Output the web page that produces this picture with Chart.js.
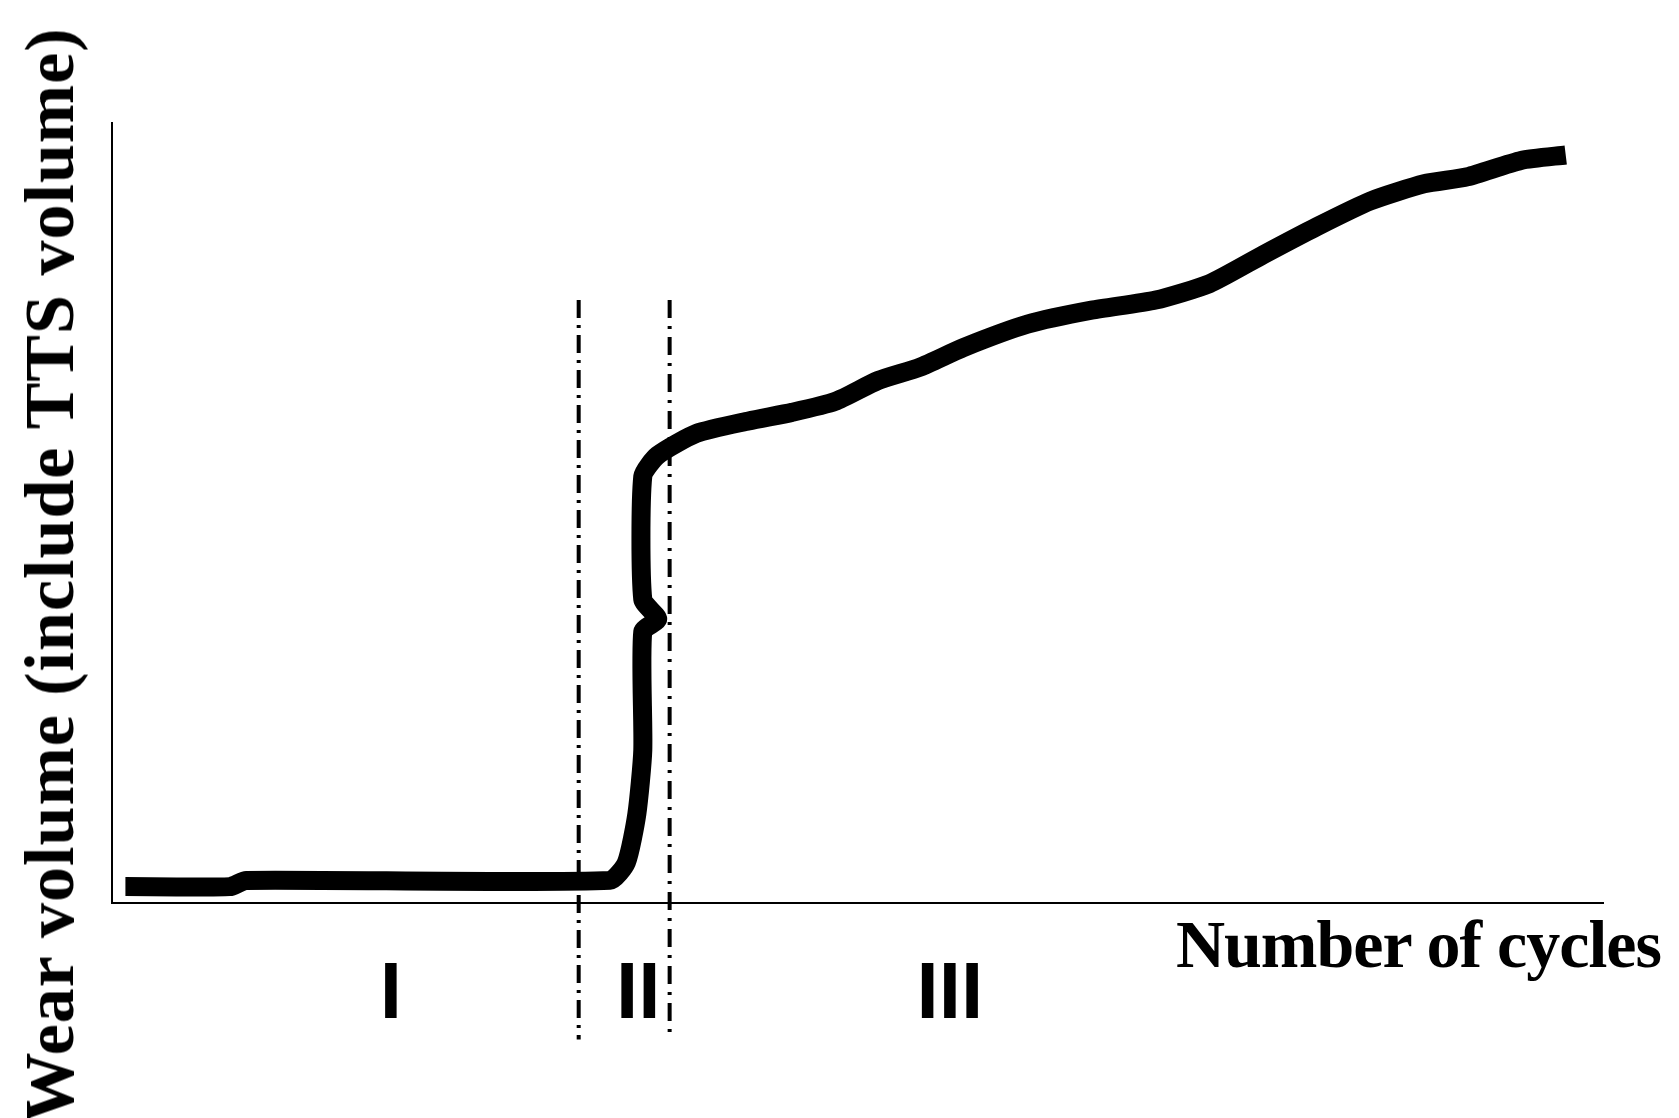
<!DOCTYPE html>
<html>
<head>
<meta charset="utf-8">
<script src="https://cdn.jsdelivr.net/npm/chart.js@4"></script>
<style>
  html, body { margin: 0; padding: 0; background: #fff; }
  #wrap { position: relative; width: 1679px; height: 1118px; }
  #yt { position: absolute; left: 50px; top: 575px; transform: translate(-50%, -50%) rotate(-90deg);
        white-space: nowrap; font: bold 70px "Liberation Serif", serif; color: #000; letter-spacing: 1px; }
  #xt { position: absolute; right: 18px; top: 905px; white-space: nowrap;
        font: bold 68px "Liberation Serif", serif; color: #000; letter-spacing: -1px; }
</style>
</head>
<body>
<div id="wrap">
  <canvas id="c" width="1679" height="1118"></canvas>
  <div id="yt">Wear volume (include TTS volume)</div>
  <div id="xt">Number of cycles</div>
</div>
<script>
// wear curve (x: cycles 0-100, y: volume 0-100)
var curveX = [0.9, 7.9, 9.0, 33.4, 34.5, 35.2, 35.6, 35.6, 36.6, 35.6, 35.6, 36.6, 39.2, 42.7, 45.6, 48.5, 51.4, 54.2, 57.1, 61.4, 65.7, 70.0, 73.6, 77.2, 80.8, 84.4, 88.0, 90.9, 94.5, 97.5];
var curveY = [2.1, 2.1, 2.9, 2.9, 5.2, 11.4, 19.6, 34.8, 36.4, 38.9, 54.7, 57.4, 60.2, 61.8, 62.9, 64.3, 67.0, 68.7, 71.2, 74.2, 76.0, 77.3, 79.4, 83.1, 86.7, 90.0, 92.2, 93.1, 95.2, 95.9];
// stage boundaries
var stageEdges = [31.3, 37.4];
var edgeTop = 77.3, edgeBottom = -17.5;
// stage labels
var stageX = [18.7, 35.3, 56.2];
var stageLabels = ['I', 'II', 'III'];

function pts(xs, ys) { return xs.map(function (x, i) { return { x: x, y: ys[i] }; }); }

new Chart(document.getElementById('c'), {
  type: 'line',
  data: {
    datasets: [
      { data: pts(curveX, curveY), borderColor: '#000', borderWidth: 19, pointRadius: 0,
        tension: 0.2, borderCapStyle: 'butt', borderJoinStyle: 'round' },
      { data: [{ x: stageEdges[0], y: edgeTop }, { x: stageEdges[0], y: edgeBottom }],
        borderColor: '#000', borderWidth: 4, borderDash: [18, 7, 3, 7], pointRadius: 0, clip: false },
      { data: [{ x: stageEdges[1], y: edgeTop }, { x: stageEdges[1], y: edgeBottom }],
        borderColor: '#000', borderWidth: 4, borderDash: [18, 8, 3, 8], pointRadius: 0, clip: false }
    ]
  },
  options: {
    responsive: false, animation: false,
    layout: { padding: { top: 123, right: 76, left: 0, bottom: 0 } },
    plugins: { legend: { display: false }, tooltip: { enabled: false } },
    scales: {
      x: {
        type: 'linear', min: 0, max: 100,
        grid: { display: false, drawTicks: false },
        border: { color: '#000', width: 2 },
        afterBuildTicks: function (s) { s.ticks = stageX.map(function (v) { return { value: v }; }); },
        afterFit: function (s) { s.height = 215; },
        ticks: { padding: 45, maxRotation: 0, autoSkip: false, color: '#000',
          font: { family: 'Liberation Sans', weight: 'bold', size: 80 },
          callback: function (v, i) { return stageLabels[i]; } }
      },
      y: {
        min: 0, max: 100,
        grid: { display: false, drawTicks: false },
        border: { color: '#000', width: 2 },
        ticks: { display: false },
        afterFit: function (s) { s.width = 112; }
      }
    }
  }
});
</script>
</body>
</html>
